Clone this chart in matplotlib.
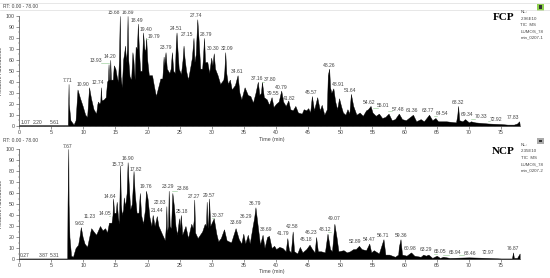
import matplotlib
matplotlib.use("Agg")
import matplotlib.pyplot as plt
from matplotlib.patches import Rectangle
from matplotlib.ticker import MultipleLocator

W, H = 550, 278
font = "Liberation Sans"
GRAY = "#555555"

fcp_t = [0,1,2,3,4,5,6,7,7.6,7.71,7.75,8,8.5,8.8,9.1,9.5,9.9,10.3,10.6,10.9,11.2,11.6,12,12.2,12.3,12.5,12.65,12.74,12.85,13.2,13.5,13.7,13.85,13.93,14.03,14.12,14.2,14.3,14.6,14.75,15,15.2,15.4,15.55,15.68,15.8,16,16.2,16.4,16.5,16.65,16.8,16.89,17,17.2,17.45,17.65,17.8,18,18.15,18.35,18.49,18.65,18.85,19.1,19.3,19.5,19.65,19.79,19.95,20.2,20.7,21,21.3,21.7,22,22.3,22.5,22.6,22.8,23,23.4,23.6,23.79,24,24.25,24.4,24.51,24.65,24.85,25.2,25.45,25.6,25.75,26,26.3,26.7,26.9,27.15,27.3,27.5,27.74,27.95,28.2,28.5,28.65,28.79,28.95,29.3,29.6,29.9,30.1,30.3,30.5,30.9,31.3,31.8,31.95,32.09,32.25,32.5,32.8,33.1,33.6,34.01,34.3,34.6,35.1,35.6,36,36.4,36.8,37.16,37.4,37.65,37.8,38.1,38.55,38.9,39.3,39.6,40,40.4,40.8,41.1,41.5,41.9,42.2,42.6,43,43.4,44,44.3,44.7,45,45.3,45.57,45.9,46.4,46.8,47.1,47.5,47.9,48.05,48.26,48.4,48.6,48.91,49.2,49.5,49.8,50.1,50.4,50.8,51.1,51.4,51.64,52,52.5,53,53.5,54,54.3,54.7,55,55.5,56,56.5,57,57.5,58,58.5,59.1,59.6,60.2,61.3,61.8,62.5,63,63.8,64.3,64.8,65.2,66.5,68,68.2,68.32,68.5,69,69.4,70,70.3,71,73,75,76,77,77.5,77.83,77.9]
fcp_v = [0.5,0.5,0.5,0.5,0.5,0.5,0.5,0.5,0.5,38,20,5,1,5,33,25,18,10,8,35,25,15,11,20,22,20,22,35,23,24,26,40,42,56,42,42,60,42,42,55,52,45,40,60,100,45,35,60,68,73,58,70,100,60,45,42,67,60,42,72,70,93,70,50,50,85,70,68,80,60,46,46,36,27,36,43,43,63,55,67,52,48,52,67,50,48,75,85,70,52,47,60,73,62,50,42,55,62,80,58,65,97,78,52,52,65,80,58,58,48,62,55,66,52,46,38,42,50,67,48,38,42,33,37,46,30,24,35,28,27,21,30,40,28,30,40,26,24,19,26,17,20,22,32,22,18,23,15,14,18,12,11,15,14,16,12,27,14,26,14,19,10,15,46,52,35,30,34,22,15,25,18,12,10,15,11,29,18,10,12,9,14,15,18,12,9,11,7,8,11,5,6,11,6,5,10,4,6,4,10,5,7,4,4,3,10,18,5,4,6,3,4,3,2,1.5,1,1,2,4,1]

ncp_t = [0,1,2,3,4,5,6,7,7.5,7.55,7.67,7.72,7.85,8.1,8.4,8.8,9.2,9.4,9.62,9.9,10.2,10.6,11,11.23,11.6,12,12.6,13,13.4,13.7,14,14.4,14.55,14.64,14.8,15.05,15.2,15.4,15.55,15.65,15.73,15.85,16,16.2,16.3,16.5,16.75,16.9,17.05,17.3,17.55,17.7,17.82,18,18.3,18.6,18.8,19,19.3,19.6,19.76,20,20.3,20.6,20.8,21.1,21.44,21.7,22.3,22.7,22.85,22.93,23.02,23.2,23.29,23.45,23.65,23.86,24.1,24.35,24.6,24.9,25,25.18,25.4,25.9,26.3,26.8,27.05,27.18,27.27,27.4,27.8,28.5,28.9,29.1,29.2,29.35,29.45,29.57,29.75,30.3,30.7,31,31.4,31.9,32.3,33,33.7,34.2,34.6,34.9,35.2,35.6,35.9,36.3,36.6,36.79,37.1,37.5,37.9,38.2,38.6,38.9,39.3,39.7,40,40.5,41,41.5,41.75,42,42.3,42.58,42.8,43.3,43.7,44.1,44.7,45.2,45.6,46,46.23,46.5,47,47.6,48,48.4,48.7,49.07,49.4,49.7,50.5,51,51.5,52,52.4,52.9,53.3,54,54.5,54.8,55.2,56,56.71,57,57.6,58.5,59,59.1,59.36,59.6,60.3,61,61.5,62.5,62.9,63.3,63.7,64.3,65,65.5,66,67,70,73,75,76.7,76.87,77,77.5,77.9]
ncp_v = [0.5,0.5,0.5,0.5,0.5,0.5,0.5,0.5,0.5,50,100,50,20,3,2,10,13,20,29,20,14,11,22,28,25,22,30,26,28,24,33,33,40,55,42,42,52,38,32,60,85,50,40,45,56,48,60,88,70,45,50,65,80,60,42,42,60,40,32,45,62,55,38,30,40,30,39,30,22,17,30,48,24,30,62,30,28,60,48,30,22,37,28,40,22,30,19,32,28,35,54,24,19,25,32,30,52,28,35,55,30,37,23,16,19,27,17,15,28,18,14,23,14,22,14,28,38,47,32,13,22,10,20,21,10,12,9,11,10,7,19,8,6,25,7,5,11,6,9,13,9,6,20,7,7,6,23,9,7,32,20,7,8,6,7,9,9,12,9,8,14,6,8,5,18,4,4,2,4,11,18,4,3,6,3,2,4,3,4,1,3,1,2,1,1.5,1,0.5,0.5,6,1,1,5]

fcp_labels = ["1.07","2.20","5.61","7.71","10.90","12.74","13.93","14.20","15.68","16.89","18.49","19.40","19.79","23.79","24.51","27.15","27.74","28.79","30.30","32.09","34.61","37.16","37.80","39.55","40.79","41.82","45.57","48.26","48.91","51.64","54.62","55.01","57.48","61.36","63.77","64.54","68.32","69.34","70.33","72.92","77.83"]
fcp_lx = [1.0,2.9,5.6,7.6,10.0,12.3,11.9,14.2,14.7,16.9,18.4,19.7,21.0,22.9,24.4,26.1,27.6,29.1,30.2,32.4,34.0,37.1,39.0,39.6,40.8,42.1,45.5,48.2,49.7,51.55,54.5,56.7,59.0,61.2,63.7,65.9,68.25,69.65,71.9,74.2,76.8]
fcp_ly = [3,3,3,41,38,39.5,59,63.5,103,103,96,88,81,71,88.5,83,100.6,83.5,70,70,49.5,43,42,29.5,35,25,30,55,38,32,21.5,18.5,15,14,14,11,21.5,10,8.5,6,7.3]
fcp_leader = ["13.93","19.79","27.15","37.80","55.01","57.48","64.54","70.33","72.92"]

ncp_labels = ["0.27","3.87","5.31","7.67","9.62","11.23","14.05","14.64","15.73","16.90","17.82","19.76","21.44","22.83","23.29","23.86","25.18","27.27","29.57","30.37","33.69","36.29","36.79","38.69","41.79","42.58","45.18","46.23","48.12","49.07","52.89","54.47","56.71","59.36","60.98","63.29","65.05","65.94","68.46","72.97","76.87"]
ncp_lx = [0.9,3.8,5.6,7.6,9.5,11.05,13.3,14.2,15.35,16.9,18.2,19.8,21.4,21.9,23.2,25.5,25.3,27.2,29.5,31.0,33.7,35.3,36.8,38.5,41.1,42.5,44.75,45.4,47.6,49.1,52.3,54.45,56.65,59.4,60.9,63.3,65.5,67.85,70.2,72.9,76.8]
ncp_ly = [3.6,3.6,3.6,102.7,32.4,38.8,41,57,86,91.5,81.5,65.8,44,51,66,64,43.6,56.7,57.9,39.7,33.3,39,50.6,26.4,23.3,29.4,17.3,24,26.7,36.4,15.5,17.3,21,21.5,9.4,8.2,6.7,6,5.2,5.5,9.4]
ncp_leader = ["14.05","22.83","23.86","30.37","36.29","48.12","65.05","65.94","68.46"]

fig = plt.figure(figsize=(W/100, H/100), dpi=100, facecolor="white")

def make_axes(top, bottom):
    x0, x1 = 19, 19 + 78*6.427
    return fig.add_axes([x0/W, 1-bottom/H, (x1-x0)/W, (bottom-top)/H])

def draw(ax, t, v, labels, lx, ly, leaders):
    ax.fill_between(t, 0, v, color="black", lw=0.3)
    ax.set_xlim(0, 78)
    ax.set_ylim(0, 100)
    ax.patch.set_alpha(0)
    for s in ("top", "right"):
        ax.spines[s].set_visible(False)
    for s in ("left", "bottom"):
        ax.spines[s].set_linewidth(0.5)
        ax.spines[s].set_color("#444444")
    ax.xaxis.set_major_locator(MultipleLocator(5))
    ax.xaxis.set_minor_locator(MultipleLocator(1))
    ax.yaxis.set_major_locator(MultipleLocator(10))
    ax.yaxis.set_minor_locator(MultipleLocator(5))
    ax.tick_params(which="major", length=2, width=0.4, labelsize=3.8, pad=1.2, colors="#444444")
    ax.tick_params(which="minor", length=1, width=0.3, colors="#444444")
    ax.set_ylabel("Relative Abundance", fontsize=3.9, color="#333333", labelpad=1.5, family=font)
    for lab in ax.get_xticklabels() + ax.get_yticklabels():
        lab.set_family(font)
    for s, x, y in zip(labels, lx, ly):
        ax.text(x, y, s, fontsize=3.6, color="#444444", ha="center", va="center",
                family=font, clip_on=False)
        if s in leaders:
            peak = float(s)
            side = 1 if peak > x else -1
            ax.plot([x + side*0.9, peak], [y - 2, y - 2], color="#8fc98f", lw=0.4, clip_on=False)

ax1 = make_axes(16, 125.7)
draw(ax1, fcp_t, fcp_v, fcp_labels, fcp_lx, fcp_ly, fcp_leader)
ax2 = make_axes(149, 259)
draw(ax2, ncp_t, ncp_v, ncp_labels, ncp_lx, ncp_ly, ncp_leader)

def ftext(px, py, s, **kw):
    kw.setdefault("fontsize", 3.8)
    kw.setdefault("color", "#444444")
    kw.setdefault("family", font)
    kw.setdefault("va", "center")
    fig.text(px/W, 1-py/H, s, **kw)

ftext(3, 6.5, "RT: 0.00 - 78.00", fontsize=3.5)
ftext(3, 140, "RT: 0.00 - 78.00", fontsize=3.5)
ftext(272, 139, "Time (min)", ha="center")
ftext(272, 272, "Time (min)", ha="center")
ftext(493, 17, "FCP", family="Liberation Serif", fontsize=8, color="black", fontweight="bold", ha="left")
ftext(492, 152, "NCP", family="Liberation Serif", fontsize=8, color="black", fontweight="bold", ha="left")
for i, s in enumerate(["NL:", "2.96E10", "TIC  MS", "LUMOS_78", "min_0207-1"]):
    ftext(520.5, 12.3 + i*6.2, s, fontsize=3.2)
for i, s in enumerate(["NL:", "2.35E10", "TIC  MS", "LUMOS_78", "min_0207-2"]):
    ftext(521, 145.3 + i*6.2, s, fontsize=3.2)

for py in (2.5, 10):
    fig.add_artist(plt.Line2D([0, 1], [1-py/H]*2, color="#dddddd", lw=0.5))
fig.add_artist(Rectangle((537/W, 1-10.5/H), 7/W, 7/H, transform=fig.transFigure, facecolor="#8fd14f", edgecolor="none"))
fig.add_artist(Rectangle((539/W, 1-8.5/H), 3/W, 3/H, transform=fig.transFigure, facecolor="#333333", edgecolor="none"))
fig.add_artist(Rectangle((537/W, 1-143.5/H), 7/W, 6/H, transform=fig.transFigure, facecolor="#aaaaaa", edgecolor="none"))
fig.add_artist(Rectangle((539/W, 1-141.5/H), 3/W, 2/H, transform=fig.transFigure, facecolor="#333333", edgecolor="none"))

fig.savefig("out.png", dpi=100)
